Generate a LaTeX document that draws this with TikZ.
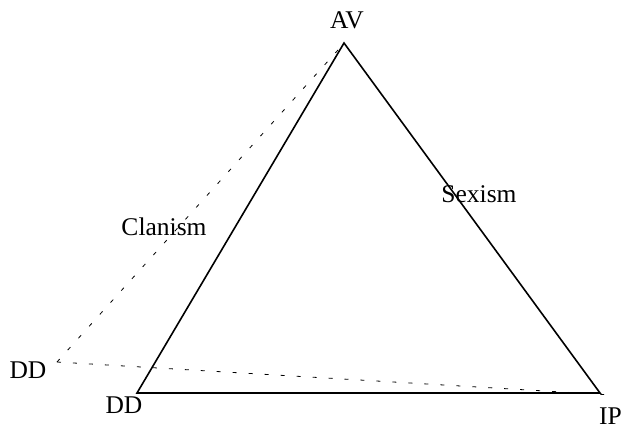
\documentclass[tikz,border=0pt]{standalone}
\usepackage{fontspec}
\setmainfont{Liberation Serif}
\begin{document}
\begin{tikzpicture}[x=1pt,y=-1pt,
  lbl/.style={inner sep=0pt,font=\fontsize{25.5}{28}\selectfont},
  tri/.style={line width=1.6pt},
  dotln/.style={line width=0.8pt,dash pattern=on 4pt off 12pt}]
\useasboundingbox (0,0) rectangle (624,428);
\coordinate (A) at (344,43);
\coordinate (B) at (137,393);
\coordinate (C) at (600,393);
\coordinate (D) at (57,362);
\coordinate (E) at (612,395);
\coordinate (F) at (338,50);
\draw[tri] (A) -- (B) -- (C) -- cycle;
\draw[dotln] (D) -- (F);
\draw[dotln] (D) -- (E);
\node[lbl] (lAV) at (347,20) {AV};
\node[lbl] (lDD1) at (28,370) {DD};
\node[lbl] (lDD2) at (124,405) {DD};
\node[lbl] (lIP) at (610.5,416) {IP};
\node[lbl] (lCl) at (164,227) {Clanism};
\node[lbl] (lSe) at (479,194) {Sexism};
\end{tikzpicture}
\end{document}
